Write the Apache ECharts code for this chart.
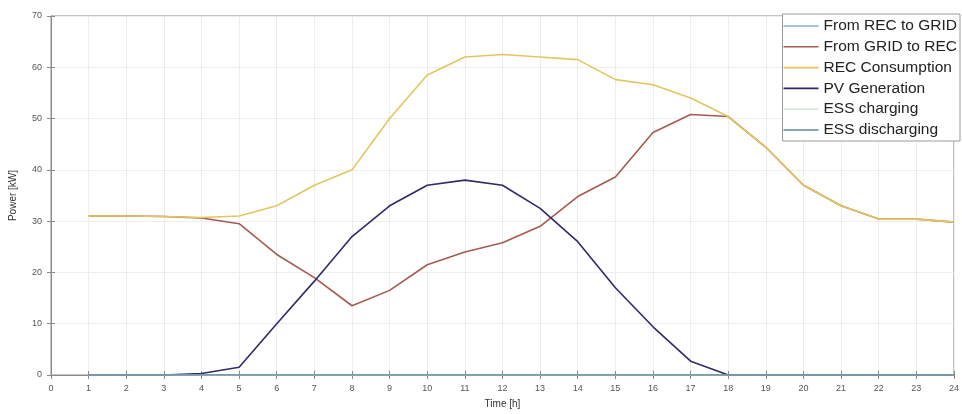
<!DOCTYPE html>
<html>
<head>
<meta charset="utf-8">
<script src="https://cdn.jsdelivr.net/npm/echarts@6/dist/echarts.min.js"></script>
<style>
  html, body { margin: 0; padding: 0; background: #fff; }
  #chart { width: 962px; height: 414px; }
</style>
</head>
<body>
<div id="chart"></div>
<script>
// Hourly power flows of the renewable energy community (kW)
const hours = [1, 2, 3, 4, 5, 6, 7, 8, 9, 10, 11, 12, 13, 14, 15, 16, 17, 18, 19, 20, 21, 22, 23, 24];
const fromRecToGrid = [0, 0, 0, 0, 0, 0, 0, 0, 0, 0, 0, 0, 0, 0, 0, 0, 0, 0, 0, 0, 0, 0, 0, 0];
const fromGridToRec = [31, 31, 30.9, 30.6, 29.5, 23.5, 19, 13.5, 16.5, 21.5, 24, 25.8, 29, 34.8, 38.6, 47.3, 50.8, 50.4, 44.4, 37, 33, 30.4, 30.4, 29.8];
const recConsumption = [31, 31, 30.9, 30.7, 31, 33, 37, 40, 50, 58.5, 62, 62.5, 62, 61.5, 57.6, 56.6, 54, 50.4, 44.4, 37, 33, 30.4, 30.4, 29.8];
const pvGeneration = [0, 0, 0, 0.3, 1.5, 10, 18.3, 27, 33, 37, 38, 37, 32.5, 26, 17, 9.4, 2.7, 0, 0, 0, 0, 0, 0, 0];
const essCharging = [0, 0, 0, 0, 0, 0, 0, 0, 0, 0, 0, 0, 0, 0, 0, 0, 0, 0, 0, 0, 0, 0, 0, 0];
const essDischarging = [0, 0, 0, 0, 0, 0, 0, 0, 0, 0, 0, 0, 0, 0, 0, 0, 0, 0, 0, 0, 0, 0, 0, 0];

const seriesDefs = [
  { name: 'From REC to GRID', values: fromRecToGrid, color: '#7fb0cf' },
  { name: 'From GRID to REC', values: fromGridToRec, color: '#a65a50' },
  { name: 'REC Consumption', values: recConsumption, color: '#e3c65f' },
  { name: 'PV Generation', values: pvGeneration, color: '#2f2a6b' },
  { name: 'ESS charging', values: essCharging, color: '#d6e6d6' },
  { name: 'ESS discharging', values: essDischarging, color: '#62889f' }
];

const tickFont = { fontFamily: 'Liberation Sans, Arial, sans-serif', fontSize: 9, color: '#555' };
const axisLine = { show: true, lineStyle: { color: '#8a8a8a', width: 1 } };
const tick = { show: true, inside: true, length: 4, lineStyle: { color: '#8a8a8a' } };

const chart = echarts.init(document.getElementById('chart'));
chart.setOption({
  animation: false,
  backgroundColor: '#ffffff',
  grid: { left: 48, right: 4, top: 16, bottom: 35, show: true, borderColor: '#8a8a8a', borderWidth: 1 },
  legend: {
    orient: 'vertical',
    right: 2,
    top: 14,
    backgroundColor: '#ffffff',
    borderColor: '#9a9a9a',
    borderWidth: 1,
    padding: [4, 3, 3, 1],
    icon: 'rect',
    itemWidth: 35,
    itemHeight: 1.6,
    itemGap: 4.8,
    textStyle: { fontFamily: 'Liberation Sans, Arial, sans-serif', fontSize: 15.5, color: '#222' },
    data: seriesDefs.map(s => s.name)
  },
  xAxis: [
    {
      type: 'value', min: 0, max: 24, interval: 1,
      name: 'Time [h]', nameLocation: 'middle', nameGap: 24,
      nameTextStyle: { fontFamily: 'Liberation Sans, Arial, sans-serif', fontSize: 10, color: '#333' },
      axisLine: axisLine, axisTick: tick,
      axisLabel: Object.assign({ margin: 9 }, tickFont),
      splitLine: { show: true, lineStyle: { color: '#eeeeee', width: 1 } }
    },
    {
      type: 'value', min: 0, max: 24, interval: 1, position: 'top',
      axisLine: axisLine, axisTick: tick, axisLabel: { show: false }, splitLine: { show: false }
    }
  ],
  yAxis: [
    {
      type: 'value', min: 0, max: 70, interval: 10,
      name: 'Power [kW]', nameLocation: 'middle', nameGap: 33,
      nameTextStyle: { fontFamily: 'Liberation Sans, Arial, sans-serif', fontSize: 10, color: '#333' },
      axisLine: axisLine, axisTick: tick,
      axisLabel: Object.assign({ margin: 9 }, tickFont),
      splitLine: { show: true, lineStyle: { color: '#eeeeee', width: 1 } }
    },
    {
      type: 'value', min: 0, max: 70, interval: 10, position: 'right',
      axisLine: axisLine, axisTick: tick, axisLabel: { show: false }, splitLine: { show: false }
    }
  ],
  series: seriesDefs.map(s => ({
    name: s.name,
    type: 'line',
    xAxisIndex: 0,
    yAxisIndex: 0,
    data: hours.map((h, i) => [h, s.values[i]]),
    symbol: 'none',
    showSymbol: false,
    color: s.color,
    lineStyle: { color: s.color, width: 1.6 }
  }))
});
</script>
</body>
</html>
